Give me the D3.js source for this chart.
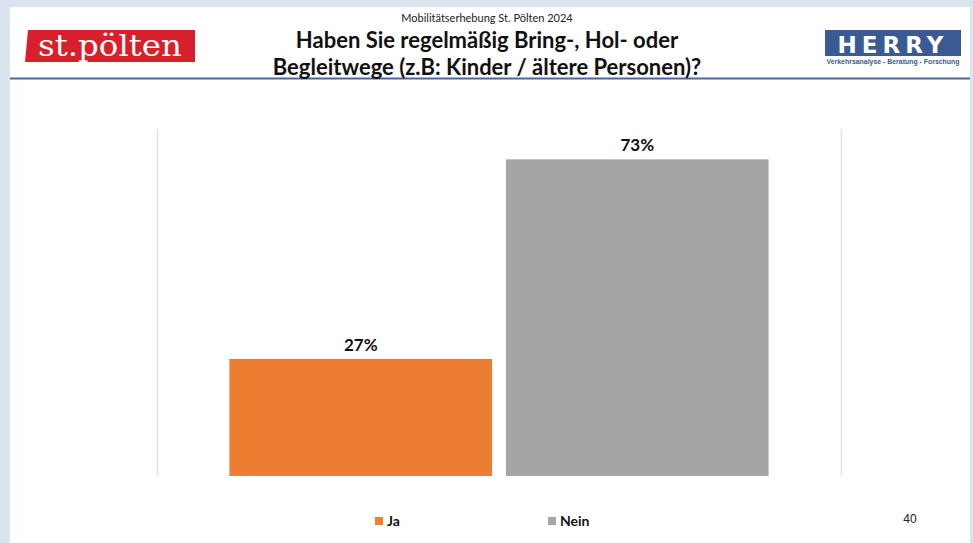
<!DOCTYPE html>
<html><head><meta charset="utf-8">
<script src="https://cdn.jsdelivr.net/npm/d3@7"></script>
<style>body{margin:0;background:#fff}svg{display:block}</style>
</head><body>
<svg id="c" width="973" height="543"></svg>
<script>
const categories = ["Ja", "Nein"];
const values = [27, 73];
const valueLabels = ["27%", "73%"];
const colors = ["#ED7D31", "#A5A5A5"];
const supTitle = "Mobilitätserhebung St. Pölten 2024";
const titleLines = ["Haben Sie regelmäßig Bring-, Hol- oder", "Begleitwege (z.B: Kinder / ältere Personen)?"];
const pageNumber = "40";

const svg = d3.select("#c");
const F = "Lato, 'Open Sans', sans-serif";

// frame
svg.append("rect").attr("width",973).attr("height",543).attr("fill","#DAE3F0");
svg.append("rect").attr("x",10).attr("y",7).attr("width",960).attr("height",536).attr("fill","#fff");

// header line
svg.append("line").attr("x1",10).attr("x2",970).attr("y1",78.5).attr("y2",78.5)
  .attr("stroke","#4A6799").attr("stroke-width",2);

// st.pölten logo
svg.append("path").attr("d","M28,30 L195,30 L195,62 L25,62 Z").attr("fill","#D7202B");
svg.append("text").attr("x",110).attr("y",56).attr("text-anchor","middle")
  .attr("font-family","'DejaVu Serif', 'Liberation Serif', serif").attr("font-size",29)
  .attr("fill","#fff").attr("textLength",144).attr("lengthAdjust","spacingAndGlyphs").text("st.pölten");

// HERRY logo
svg.append("rect").attr("x",825).attr("y",30).attr("width",136).attr("height",26).attr("fill","#3B5A93");
svg.append("text").attr("x",893).attr("y",53).attr("text-anchor","middle")
  .attr("font-family","'DejaVu Sans', sans-serif").attr("font-weight","bold").attr("font-size",23)
  .attr("letter-spacing",5).attr("fill","#fff").text("HERRY");
svg.append("text").attr("x",893).attr("y",64).attr("text-anchor","middle")
  .attr("font-family","'Liberation Sans Narrow', 'Liberation Sans', sans-serif").attr("font-weight","bold").attr("font-size",6.5)
  .attr("fill","#3B5A93").attr("textLength",133).attr("lengthAdjust","spacingAndGlyphs")
  .text("Verkehrsanalyse - Beratung - Forschung");

// titles
svg.append("text").attr("x",487).attr("y",22).attr("text-anchor","middle")
  .attr("font-family",F).attr("font-size",11).attr("fill","#222").text(supTitle);
svg.selectAll("text.title").data(titleLines).enter().append("text").attr("class","title")
  .attr("x",487).attr("y",(d,i)=>48+i*27).attr("text-anchor","middle")
  .attr("font-family",F).attr("font-weight","bold").attr("font-size",22).attr("fill","#111").text(d=>d);

// chart
const y = d3.scaleLinear().domain([0,80]).range([476,129]);
const x = d3.scaleBand().domain(categories).range([157,841]).paddingInner(0.05).paddingOuter(0.262);

svg.selectAll("line.grid").data([157,841]).enter().append("line").attr("class","grid")
  .attr("x1",d=>d+0.5).attr("x2",d=>d+0.5).attr("y1",129).attr("y2",476)
  .attr("stroke","#E3E3E3").attr("stroke-width",1.5);

svg.selectAll("rect.bar").data(values).enter().append("rect").attr("class","bar")
  .attr("x",(d,i)=>x(categories[i])).attr("width",x.bandwidth())
  .attr("y",d=>y(d)).attr("height",d=>y(0)-y(d)).attr("fill",(d,i)=>colors[i]);

svg.selectAll("text.val").data(values).enter().append("text").attr("class","val")
  .attr("x",(d,i)=>x(categories[i])+x.bandwidth()/2).attr("y",d=>y(d)-8)
  .attr("text-anchor","middle").attr("font-family",F).attr("font-weight","bold").attr("font-size",17)
  .attr("fill","#111").text((d,i)=>valueLabels[i]);

// legend
const lx = [375, 548];
const lg = svg.selectAll("g.leg").data(categories).enter().append("g").attr("class","leg")
  .attr("transform",(d,i)=>`translate(${lx[i]},517)`);
lg.append("rect").attr("width",8).attr("height",8).attr("fill",(d,i)=>colors[i]);
lg.append("text").attr("x",12).attr("y",9).attr("font-family",F).attr("font-weight","bold")
  .attr("font-size",14).attr("fill","#111").text(d=>d);

svg.append("text").attr("x",910).attr("y",523).attr("text-anchor","middle")
  .attr("font-family","'Liberation Sans', sans-serif").attr("font-size",12).attr("fill","#222").text(pageNumber);
</script>
</body></html>
